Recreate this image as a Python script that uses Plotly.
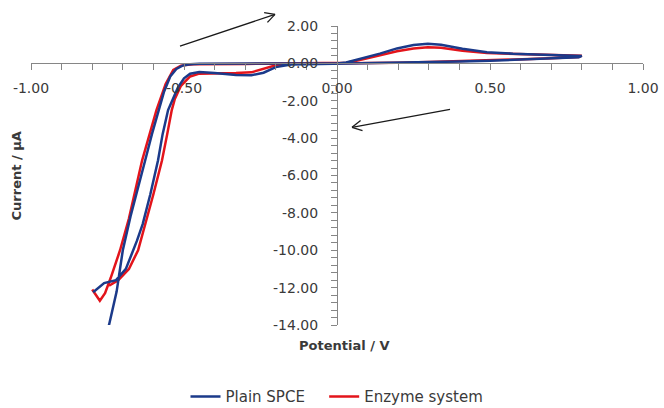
import math
import plotly.graph_objects as go

# ---- data (potential / V, current / uA) ----
spce_E = [-0.765, -0.745, -0.72, -0.70, -0.675, -0.65, -0.627, -0.605, -0.585, -0.565, -0.545, -0.525,
          -0.505, -0.48, -0.45, -0.35, -0.2, -0.1, 0.0, 0.03, 0.085, 0.14, 0.196, 0.25, 0.297, 0.34,
          0.41, 0.49, 0.575, 0.66, 0.74, 0.80, 0.79, 0.7, 0.6, 0.5, 0.4, 0.3, 0.2, 0.1, 0.0, -0.1,
          -0.15, -0.2, -0.24, -0.28, -0.33, -0.4, -0.45, -0.48, -0.5, -0.52, -0.54, -0.552, -0.57,
          -0.585, -0.61, -0.635, -0.654, -0.69, -0.722, -0.761, -0.797]
spce_I = [-15.0, -14.0, -12.2, -10.0, -8.2, -6.7, -5.2, -3.8, -2.6, -1.5, -0.7, -0.3,
          -0.12, -0.05, -0.02, 0.0, 0.0, 0.0, 0.0, 0.05, 0.27, 0.52, 0.8, 0.98, 1.05, 1.0,
          0.78, 0.6, 0.52, 0.47, 0.44, 0.40, 0.33, 0.26, 0.2, 0.14, 0.1, 0.07, 0.04, 0.02, 0.0, -0.02,
          -0.06, -0.2, -0.5, -0.64, -0.62, -0.52, -0.46, -0.55, -0.8, -1.3, -2.0, -2.5, -3.8,
          -5.2, -7.0, -8.6, -9.5, -11.0, -11.6, -11.76, -12.25]

enz_E = [-0.80, -0.775, -0.758, -0.74, -0.709, -0.68, -0.637, -0.59, -0.56, -0.535, -0.51, -0.47,
         -0.3, -0.1, 0.0, 0.03, 0.085, 0.14, 0.196, 0.25, 0.297, 0.34, 0.41, 0.49, 0.575, 0.66,
         0.74, 0.80, 0.79, 0.7, 0.6, 0.5, 0.4, 0.3, 0.2, 0.1, 0.0, -0.1, -0.15, -0.2, -0.24, -0.28,
         -0.33, -0.4, -0.45, -0.48, -0.51, -0.53, -0.54, -0.555, -0.572, -0.6, -0.625, -0.65,
         -0.68, -0.715, -0.745]
enz_I = [-12.1, -12.7, -12.3, -11.5, -10.0, -8.3, -5.2, -2.5, -1.1, -0.35, -0.12, -0.05,
         -0.03, -0.01, 0.0, 0.04, 0.22, 0.43, 0.65, 0.8, 0.86, 0.83, 0.68, 0.55, 0.5, 0.46,
         0.43, 0.41, 0.34, 0.27, 0.21, 0.15, 0.11, 0.07, 0.04, 0.02, 0.0, -0.01, -0.02, -0.1, -0.3, -0.48,
         -0.52, -0.52, -0.55, -0.7, -1.2, -1.9, -2.5, -3.8, -5.2, -7.0, -8.5, -10.0,
         -11.0, -11.6, -11.9]

x_ticks = [-1.0, -0.5, 0.0, 0.5, 1.0]
y_ticks = [2, 0, -2, -4, -6, -8, -10, -12, -14]

BLUE = "#1B3A8A"
RED = "#E3141B"
AXIS = "#868686"
TXT = "#3a3a3a"
FONT = "DejaVu Sans"

W, H = 664, 408
L, R, T, B = 31, 21, 25.6, 83
X0, X1, Y0, Y1 = -1.0, 1.0, -14.0, 2.0

fig = go.Figure()
fig.add_trace(go.Scatter(x=enz_E, y=enz_I, mode="lines", name="Enzyme system",
                         line=dict(color=RED, width=2.5), legendrank=2))
fig.add_trace(go.Scatter(x=spce_E, y=spce_I, mode="lines", name="Plain SPCE\u00a0\u00a0\u00a0",
                         line=dict(color=BLUE, width=2.5), legendrank=1))

fig.update_layout(
    width=W, height=H,
    margin=dict(l=L, r=R, t=T, b=B, autoexpand=False),
    paper_bgcolor="white", plot_bgcolor="white",
    font=dict(family=FONT, size=13, color=TXT),
    xaxis=dict(range=[X0, X1], tickvals=x_ticks, ticktext=[f"{v:.2f}" for v in x_ticks],
               showgrid=False, zeroline=False, showline=True, linecolor=AXIS, linewidth=1,
               ticks="outside", ticklen=6, tickcolor=AXIS, automargin=False, ticklabelstandoff=6,
               minor=dict(dtick=0.1, ticks="outside", ticklen=6, tickcolor=AXIS, showgrid=False),
               anchor="free", position=(0 - Y0) / (Y1 - Y0),
               tickfont=dict(family=FONT, size=14, color=TXT)),
    yaxis=dict(range=[Y0, Y1], tickvals=y_ticks, ticktext=[f"{v:.2f}" for v in y_ticks],
               showgrid=False, zeroline=False, showline=True, linecolor=AXIS, linewidth=1,
               ticks="outside", ticklen=6, tickcolor=AXIS, automargin=False, ticklabelstandoff=10,
               minor=dict(dtick=0.4, ticks="outside", ticklen=6, tickcolor=AXIS, showgrid=False),
               anchor="free", position=(0 - X0) / (X1 - X0),
               tickfont=dict(family=FONT, size=14, color=TXT)),
    showlegend=True,
    legend=dict(orientation="h", x=0.5, xanchor="center", y=-0.24, yanchor="middle",
                font=dict(family=FONT, size=15, color=TXT), itemwidth=30),
)

fig.add_annotation(text="<b>Potential / V</b>", xref="paper", yref="paper",
                   x=0.512, y=-0.068, yanchor="middle", showarrow=False,
                   font=dict(family=FONT, size=13, color=TXT))
fig.add_annotation(text="<b>Current / µA</b>", xref="paper", yref="paper",
                   x=-0.023, xanchor="center", y=0.5, textangle=-90, showarrow=False,
                   font=dict(family=FONT, size=13, color=TXT))

# ---- scan-direction arrows (pixel positions -> paper) ----
pw, ph = W - L - R, H - T - B
def to_paper(px, py):
    return (px - L) / pw, 1 - (py - T) / ph

def arrow(p_start, p_end, head=11, ang=28):
    (sx, sy), (ex, ey) = p_start, p_end
    th = math.atan2(ey - sy, ex - sx)
    segs = [(p_start, p_end)]
    for s in (+1, -1):
        a = th + math.pi - s * math.radians(ang)
        segs.append(((ex, ey), (ex + head * math.cos(a), ey + head * math.sin(a))))
    for (a, b) in segs:
        x0, y0 = to_paper(*a)
        x1, y1 = to_paper(*b)
        fig.add_shape(type="line", xref="paper", yref="paper", x0=x0, y0=y0, x1=x1, y1=y1,
                      line=dict(color="#1a1a1a", width=1.3))

arrow((180, 45.7), (275, 14))
arrow((450, 109), (352, 127))

fig.write_html("out.html", config={"displayModeBar": False},
               post_script="document.body.style.margin='0';document.body.style.overflow='hidden';")
